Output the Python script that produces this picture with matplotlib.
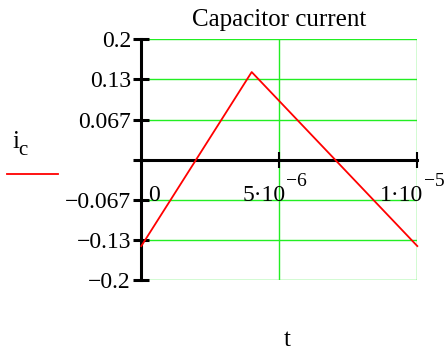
import matplotlib
matplotlib.use("Agg")
import matplotlib.pyplot as plt
from matplotlib.lines import Line2D
from matplotlib.transforms import blended_transform_factory

plt.rcParams['font.family'] = ['Liberation Serif', 'DejaVu Serif']
plt.rcParams['mathtext.fontset'] = 'custom'
plt.rcParams['mathtext.rm'] = 'Liberation Serif'
plt.rcParams['mathtext.it'] = 'Liberation Serif'

# data
t = [0.0, 4.0e-6, 1.0e-5]
ic = [-0.1436, 0.1456, -0.1436]

y_ticks = [0.2, 0.2 * 2 / 3, 0.2 / 3, 0.0, -0.2 / 3, -0.2 * 2 / 3, -0.2]
y_labels = ["0.2", "0.13", "0.067", "", "\u22120.067", "\u22120.13", "\u22120.2"]
x_ticks = [0.0, 5e-6, 1e-5]
x_mant = ["0", "5\u00b710", "1\u00b710"]
x_exp = ["", "\u22126", "\u22125"]

W, H = 448, 351
fig = plt.figure(figsize=(W / 100, H / 100), dpi=100)
ax = fig.add_axes([141.3 / W, 1 - 280 / H, (417.3 - 141.3) / W, (280 - 39.3) / H])
ax.set_xlim(0, 1e-5)
ax.set_ylim(-0.2, 0.2)

green = '#22ee22'
for yv in y_ticks:
    ax.axhline(yv, color=green, lw=1.0, zorder=1)
for xv in x_ticks[1:]:
    ax.axvline(xv, color=green, lw=1.0, zorder=1)

for s in ['top', 'right']:
    ax.spines[s].set_visible(False)
ax.spines['left'].set_linewidth(2.2)
ax.spines['bottom'].set_linewidth(2.2)
ax.spines['bottom'].set_position(('data', 0))
ax.spines['left'].set_zorder(3)
ax.spines['bottom'].set_zorder(3)

ax.set_yticks(y_ticks)
ax.set_yticklabels(y_labels)
ax.tick_params(axis='y', direction='inout', length=11, width=2.2, labelsize=17, pad=2)
ax.set_xticks(x_ticks[1:])
ax.set_xticklabels([])
ax.tick_params(axis='x', direction='inout', length=11, width=1.5)

ax.plot(t, ic, color='#ff0000', lw=1.3, zorder=4, clip_on=False)

trans = blended_transform_factory(ax.transData, fig.transFigure)
offs = [7, -37, -37]
from matplotlib.transforms import offset_copy
for xv, m, e, o in zip(x_ticks, x_mant, x_exp, offs):
    tr = offset_copy(trans, fig=fig, x=o * 0.72, y=0, units='points')
    txt = ax.text(xv, 1 - 201 / H, m, transform=tr, fontsize=17, ha='left', va='baseline')
    if e:
        fig.canvas.draw()
        bb = txt.get_window_extent()
        fig.text(bb.x1 / W + 0.001, 1 - 186 / H, e, fontsize=14, ha='left', va='baseline')

fig.text(279 / W, 1 - 26 / H, "Capacitor current", fontsize=18, ha='center', va='baseline')
fig.text(287 / W, 1 - 346 / H, "t", fontsize=18, ha='center', va='baseline')
fig.text(12 / W, 1 - 148 / H, "i", fontsize=18, ha='left', va='baseline')
fig.text(18 / W, 1 - 155 / H, "c", fontsize=15, ha='left', va='baseline')
fig.add_artist(Line2D([7 / W, 58 / W], [1 - 174 / H, 1 - 174 / H], color='#ff0000', lw=1.3,
                      transform=fig.transFigure))

fig.savefig("out.png", dpi=100)
